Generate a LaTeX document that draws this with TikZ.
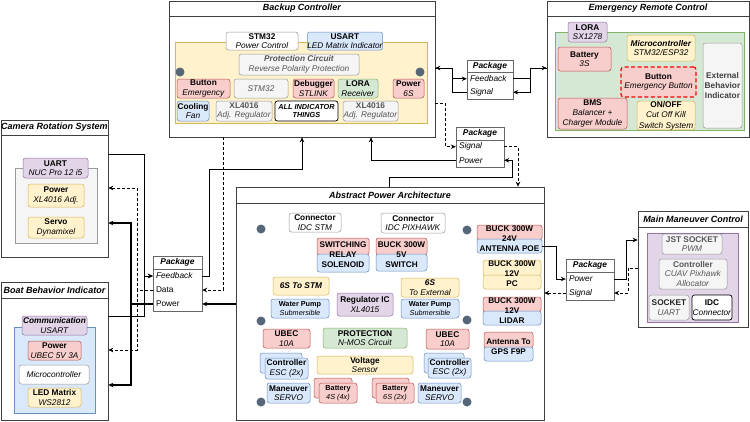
\documentclass[tikz,border=0pt]{standalone}
\usepackage{fontspec}
\setmainfont{Liberation Sans}
\usetikzlibrary{arrows.meta}

\definecolor{ylwF}{HTML}{FFF2CC}\definecolor{ylwD}{HTML}{D6B656}
\definecolor{redF}{HTML}{F8CECC}\definecolor{redD}{HTML}{B85450}
\definecolor{bluF}{HTML}{DAE8FC}\definecolor{bluD}{HTML}{6C8EBF}
\definecolor{grnF}{HTML}{D5E8D4}\definecolor{grnD}{HTML}{82B366}
\definecolor{purF}{HTML}{E1D5E7}\definecolor{purD}{HTML}{9673A6}
\definecolor{gryF}{HTML}{F5F5F5}\definecolor{gryD}{HTML}{9A9A9A}
\definecolor{gryT}{HTML}{555555}\definecolor{dotC}{HTML}{56677A}

\tikzset{
  frame/.style={draw=black!75, fill=white, line width=0.6pt, inner sep=0pt},
  bar/.style={draw=black!75, line width=0.6pt},
  heading/.style={font=\fontsize{9}{10}\selectfont\bfseries\itshape, inner sep=0pt},
  sz/.style 2 args={minimum width=#1pt, minimum height=#2pt},
  area/.style 2 args={fill=#1, draw=#2, line width=0.5pt},
  card/.style={rounded corners=2.5pt, line width=0.5pt, align=center, inner sep=0pt,
    font=\fontsize{8.3}{9.4}\selectfont},
  ycard/.style={card, fill=ylwF, draw=ylwD},
  rcard/.style={card, fill=redF, draw=redD},
  bcard/.style={card, fill=bluF, draw=bluD},
  gcard/.style={card, fill=grnF, draw=grnD},
  pcard/.style={card, fill=purF, draw=purD},
  kcard/.style={card, fill=gryF, draw=gryD, text=gryT},
  wcard/.style={card, fill=white, draw=gryD},
  icard/.style={card, fill=white, draw=black, line width=0.7pt},
  small/.style={font=\fontsize{7.3}{8.6}\selectfont},
  tall/.style={font=\fontsize{8.3}{10.4}\selectfont},
  stack/.style={align=center, inner sep=0pt, font=\fontsize{8.2}{10}\selectfont\bfseries},
  dot/.style={circle, fill=dotC, inner sep=0pt, minimum size=9pt},
  pkg/.style={draw=black!60, fill=white, line width=0.5pt, inner sep=0pt},
  pkghead/.style={font=\fontsize{8.4}{10}\selectfont\bfseries\itshape, inner sep=0pt},
  row/.style={text width=#1, align=left, inner xsep=3pt, inner ysep=0pt,
    minimum height=13.5pt, font=\fontsize{8.3}{10}\selectfont},
  link/.style={line width=0.8pt, -{Stealth[length=5pt,width=4.5pt]}},
  power/.style={link, line width=1.2pt},
  sig/.style={link, dash pattern=on 3pt off 2pt},
}

\begin{document}
\begin{tikzpicture}[x=1pt,y=-1pt]
\fill[white] (0,0) rectangle (750,421);
\useasboundingbox (0,0) rectangle (750,421);

% Backup Controller
\node[frame, sz={266}{136}] (bc) at (302,69) {};
\draw[bar] (bc.west |- 0,16) -- (bc.east |- 0,16);
\node[heading] (bcT) at (302,8.5) {Backup Controller};
\draw[area={ylwF}{ylwD}] (175,42) rectangle (427,123);
\node[wcard, sz={72}{18}] (bcStm) at (262,41) {\textbf{STM32}\\\textit{Power Control}};
\node[bcard, sz={74}{18}] (bcUsart) at (345,41) {\textbf{USART}\\\textit{LED Matrix Indicator}};
\node[kcard, sz={120}{21}] (bcProt) at (299,64.5) {\textbf{\textit{Protection Circuit}}\\\textit{Reverse Polarity Protection}};
\node[dot] (bcDotL) at (180,72) {};
\node[dot] (bcDotR) at (420,72) {};
\node[rcard, sz={53}{19}] (bcBtn) at (203.5,88.5) {\textbf{Button}\\\textit{Emergency}};
\node[kcard, sz={54}{19}] (bcStm2) at (261,88.5) {\textit{STM32}};
\node[rcard, sz={41}{19}] (bcDbg) at (313.5,88.5) {\textbf{Debugger}\\\textit{STLINK}};
\node[gcard, sz={40}{19}] (bcLora) at (358,88.5) {\textbf{LORA}\\\textit{Receiver}};
\node[rcard, sz={31}{19}] (bcPwr) at (408.5,88.5) {\textbf{Power}\\\textit{6S}};
\node[bcard, sz={32}{20}] (bcCool) at (193,111) {\textbf{Cooling}\\\textit{Fan}};
\node[kcard, sz={56}{20}] (bcXlA) at (244,111) {\textbf{XL4016}\\\textit{Adj. Regulator}};
\node[icard, small, sz={63}{20}] (bcAll) at (306.5,111) {\textbf{\textit{ALL INDICATOR}}\\\textbf{\textit{THINGS}}};
\node[kcard, sz={55}{20}] (bcXlB) at (370.5,111) {\textbf{XL4016}\\\textit{Adj. Regulator}};

% Emergency Remote Control
\node[frame, sz={202}{136}] (erc) at (648,69) {};
\draw[bar] (erc.west |- 0,16) -- (erc.east |- 0,16);
\node[heading] (ercT) at (648,8.5) {Emergency Remote Control};
\draw[area={grnF}{grnD}] (555,32) rectangle (744,130);
\node[pcard, sz={39}{20}] (eLora) at (587.5,32) {\textbf{LORA}\\\textit{SX1278}};
\node[rcard, sz={53}{24}] (eBat) at (584.5,59) {\textbf{Battery}\\\textit{3S}};
\node[ycard, sz={68}{26}] (eMcu) at (661,48) {\textbf{\textit{Microcontroller}}\\\textit{STM32/ESP32}};
\node[rcard, sz={75}{30}, draw=red, line width=1.2pt, dash pattern=on 4pt off 2.5pt] (eBtn) at (658.5,82) {\textbf{Button}\\\textit{Emergency Button}};
\node[kcard, tall, sz={39}{85}, text=black!75] (eExt) at (722.5,85.5) {\textbf{External}\\\textbf{Behavior}\\\textbf{Indicator}};
\node[rcard, tall, sz={69}{31}] (eBms) at (592.5,113.5) {\textbf{BMS}\\\textit{Balancer +}\\\textit{Charger Module}};
\node[ycard, tall, sz={58}{27}] (eOff) at (666,115.5) {\textbf{ON/OFF}\\\textit{Cut Off Kill}\\\textit{Switch System}};

% Camera Rotation System
\node[frame, sz={107}{137}] (crs) at (54.5,188.5) {};
\draw[bar] (crs.west |- 0,135) -- (crs.east |- 0,135);
\node[heading] (crsT) at (54.5,127.5) {Camera Rotation System};
\draw[area={gryF}{gryD}] (15,168) rectangle (97,243);
\node[pcard, sz={65}{20}] (cUart) at (55.5,168) {\textbf{UART}\\\textit{NUC Pro 12 i5}};
\node[ycard, sz={56}{23}] (cPwr) at (56,195.5) {\textbf{Power}\\\textit{XL4016 Adj.}};
\node[ycard, sz={56}{21}] (cServo) at (56,227.5) {\textbf{Servo}\\\textit{Dynamixel}};

% Boat Behavior Indicator
\node[frame, sz={107}{138}] (bbi) at (54.5,351) {};
\draw[bar] (bbi.west |- 0,298) -- (bbi.east |- 0,298);
\node[heading] (bbiT) at (54.5,290) {Boat Behavior Indicator};
\draw[area={bluF}{bluD}] (14,327) rectangle (95,413);
\node[pcard, sz={65}{19}] (bComm) at (54.5,325.5) {\textbf{\textit{Communication}}\\\textit{USART}};
\node[rcard, sz={53}{19}] (bPwr) at (54.5,350.5) {\textbf{Power}\\\textit{UBEC 5V 3A}};
\node[wcard, sz={70}{19}] (bMcu) at (54,374.5) {\textit{Microcontroller}};
\node[ycard, sz={53}{19}] (bLed) at (54.5,397.5) {\textbf{LED Matrix}\\\textit{WS2812}};

% Abstract Power Architecture
\node[frame, sz={308}{233}] (apa) at (390,303.5) {};
\draw[bar] (apa.west |- 0,203) -- (apa.east |- 0,203);
\node[heading] (apaT) at (390,195) {Abstract Power Architecture};
\node[dot] (aDot1) at (261,229) {};
\node[dot] (aDot2) at (261,321) {};
\node[dot] (aDot3) at (261,402) {};
\node[dot] (aDot4) at (467,230) {};
\node[dot] (aDot5) at (467,320) {};
\node[dot] (aDot6) at (467,402) {};
\node[wcard, sz={52}{19}] (aIdcS) at (315,222.5) {\textbf{Connector}\\\textit{IDC STM}};
\node[wcard, sz={64}{20}] (aIdcP) at (413,223) {\textbf{Connector}\\\textit{IDC PIXHAWK}};
\node[rcard, sz={52}{17}] (aRelayT) at (343,246.5) {};
\node[bcard, sz={52}{18}] (aRelayB) at (343,263) {};
\node[stack] (aRelay) at (343,255) {SWITCHING\\RELAY\\SOLENOID};
\node[rcard, sz={51}{17}] (aBuck5T) at (401.5,246.5) {};
\node[bcard, sz={51}{17}] (aBuck5B) at (401.5,262.5) {};
\node[stack] (aBuck5) at (401.5,254.5) {BUCK 300W\\5V\\SWITCH};
\node[rcard, sz={65}{15}] (aBuck24T) at (509.5,232.5) {};
\node[bcard, sz={65}{14}] (aBuck24B) at (509.5,246) {};
\node[stack] (aBuck24) at (509.5,239) {BUCK 300W\\24V\\ANTENNA POE};
\node[ycard, sz={58}{15.5}] (aBuckPcT) at (512,267.75) {};
\node[ycard, sz={58}{14}] (aBuckPcB) at (512,282) {};
\node[stack] (aBuckPc) at (512,274) {BUCK 300W\\12V\\PC};
\node[rcard, sz={58}{15}] (aBuckLdT) at (512,304.5) {};
\node[bcard, sz={58}{14}] (aBuckLdB) at (512,318) {};
\node[stack] (aBuckLd) at (512,311) {BUCK 300W\\12V\\LIDAR};
\node[rcard, sz={49}{16}] (aGpsT) at (508.5,340) {};
\node[bcard, sz={49}{14}] (aGpsB) at (508.5,354) {};
\node[stack] (aGps) at (508.5,347) {Antenna To\\GPS F9P};
\node[ycard, sz={56}{18}] (a6sS) at (301,286) {\textbf{\textit{6S To STM}}};
\node[bcard, small, sz={58}{19}] (aPumpL) at (300,308.5) {\textbf{Water Pump}\\\textit{Submersible}};
\node[pcard, sz={56}{23}] (aReg) at (365,304.5) {\textbf{Regulator IC}\\\textit{XL4015}};
\node[ycard, sz={58}{19}] (a6sE) at (430,287.5) {\textbf{\textit{6S}}\\\textit{To External}};
\node[bcard, small, sz={58}{19}] (aPumpR) at (430,308.5) {\textbf{Water Pump}\\\textit{Submersible}};
\node[rcard, sz={47}{19}] (aUbecL) at (286.5,338.5) {\textbf{UBEC}\\\textit{10A}};
\node[gcard, sz={84}{20}] (aProt) at (365,338) {\textbf{PROTECTION}\\\textit{N-MOS Circuit}};
\node[rcard, sz={43}{20}] (aUbecR) at (447.5,339) {\textbf{UBEC}\\\textit{10A}};
\node[bcard, sz={42}{20}] (aEscLb) at (281,363) {};
\node[bcard, sz={43}{21}] (aEscL) at (286.5,368.5) {\textbf{Controller}\\\textit{ESC (2x)}};
\node[ycard, sz={96}{18}] (aVolt) at (365,365) {\textbf{Voltage}\\\textit{Sensor}};
\node[bcard, sz={40}{20}] (aEscRb) at (444,363) {};
\node[bcard, sz={43}{20}] (aEscR) at (449.5,368) {\textbf{Controller}\\\textit{ESC (2x)}};
\node[bcard, sz={43}{20}] (aSrvL) at (288.5,393) {\textbf{Maneuver}\\\textit{SERVO}};
\node[rcard, sz={38}{20}] (aBatLb) at (333,388) {};
\node[rcard, small, sz={38}{20}] (aBatL) at (338,393) {\textbf{Battery}\\\textit{4S (4x)}};
\node[rcard, sz={37}{20}] (aBatRb) at (390.5,388) {};
\node[rcard, small, sz={38}{20}] (aBatR) at (395,393) {\textbf{Battery}\\\textit{6S (2x)}};
\node[bcard, sz={43}{20}] (aSrvR) at (439.5,393) {\textbf{Maneuver}\\\textit{SERVO}};

% Main Maneuver Control
\node[frame, sz={110}{116}] (mmc) at (693,269) {};
\draw[bar] (mmc.west |- 0,227) -- (mmc.east |- 0,227);
\node[heading] (mmcT) at (693,219) {Main Maneuver Control};
\draw[area={purF}{purD}] (647,233) rectangle (738,322);
\node[kcard, sz={60}{20}] (mJst) at (692,244) {\textbf{JST SOCKET}\\\textit{PWM}};
\node[kcard, sz={68}{30}] (mCtl) at (693,274) {\textbf{Controller}\\\textit{CUAV Pixhawk}\\\textit{Allocator}};
\node[kcard, sz={40}{25}] (mSock) at (669,307.5) {\textbf{\textcolor{black!85}{SOCKET}}\\\textit{UART}};
\node[icard, sz={40}{25}] (mIdc) at (712,307.5) {\textbf{IDC}\\\textit{Connector}};

% packages
\node[pkg, sz={46}{39}] (pkA) at (490,79.5) {};
\draw[pkg] (pkA.west |- 0,72) -- (pkA.east |- 0,72);
\node[pkghead] (pkAt) at (490,66) {Package};
\node[row=40pt] (pkAfb) at (490,78.75) {\textit{Feedback}};
\node[row=40pt] (pkAsig) at (490,92.25) {\textit{Signal}};

\node[pkg, sz={48}{40}] (pkB) at (480,147) {};
\draw[pkg] (pkB.west |- 0,140) -- (pkB.east |- 0,140);
\node[pkghead] (pkBt) at (480,133.5) {Package};
\node[row=42pt] (pkBsig) at (480,146.75) {\textit{Signal}};
\node[row=42pt] (pkBpwr) at (480,160.25) {\textit{Power}};

\node[pkg, sz={49}{55}] (pkC) at (177.5,283.5) {};
\draw[pkg] (pkC.west |- 0,269) -- (pkC.east |- 0,269);
\node[pkghead] (pkCt) at (177.5,262.5) {Package};
\node[row=43pt] (pkCfb) at (177.5,276) {\textit{Feedback}};
\node[row=43pt] (pkCdat) at (177.5,290) {Data};
\node[row=43pt] (pkCpwr) at (177.5,304) {Power};

\node[pkg, sz={48}{41}] (pkD) at (590,279.5) {};
\draw[pkg] (pkD.west |- 0,272) -- (pkD.east |- 0,272);
\node[pkghead] (pkDt) at (590,265.5) {Package};
\node[row=42pt] (pkDpwr) at (590,279) {\textit{Power}};
\node[row=42pt] (pkDsig) at (590,293) {\textit{Signal}};

% links around the left package
\draw[link] (crs.east |- 0,154) -- (144,154) |- (pkCfb.west);
\draw[link] (bbi.east |- 0,316) -| (144,276) -- (pkCfb.west);
\draw[sig] (pkCdat.west) -- (137,290) |- (crs.east |- 0,188);
\draw[sig] (pkCdat.west) -- (137,290) |- (bbi.east |- 0,350);
\draw[power] (pkCpwr.west) -- (131,304) |- (crs.east |- 0,223);
\draw[power] (pkCpwr.west) -- (131,304) |- (bbi.east |- 0,385);
\draw[power] (apa.west |- pkCpwr) -- (pkCpwr.east);
\draw[sig] (223,0 |- bc.south) |- (pkCdat.east);
\draw[link] (pkCfb.east) -| (209,169) -| (302,0 |- bc.south);

% links around the middle package
\draw[sig] (bc.east |- 0,103) -- (445,103) |- (pkBsig.west);
\draw[sig] (pkBsig.east) -| (518,0 |- apa.north);
\draw[link] (389,0 |- apa.north) -- (389,177) -| (512,160.25) -- (pkBpwr.east);
\draw[link] (pkBpwr.west) -| (371,0 |- bc.south);

% links around the top package
\draw[link] (bc.east |- 0,68) -- (452,68) |- (pkAfb.west);
\draw[link] (pkAsig.west) -| (452,68) -- (bc.east |- 0,68);
\draw[link] (pkAfb.east) -| (530,68) -- (erc.west |- 0,68);
\draw[link] (erc.west |- 0,68) -- (530,68) |- (pkAsig.east);

% links around the right package
\draw[link] (aBuck24B.east) -- (556,246) |- (pkDpwr.west);
\draw[sig] (pkDsig.west) -- (apa.east |- pkDsig);
\draw[link] (pkDpwr.east) -| (626,240) -- (mmc.west |- 0,240);
\draw[sig] (mmc.west |- 0,268) -- (628,268) |- (pkDsig.east);
\end{tikzpicture}
\end{document}
